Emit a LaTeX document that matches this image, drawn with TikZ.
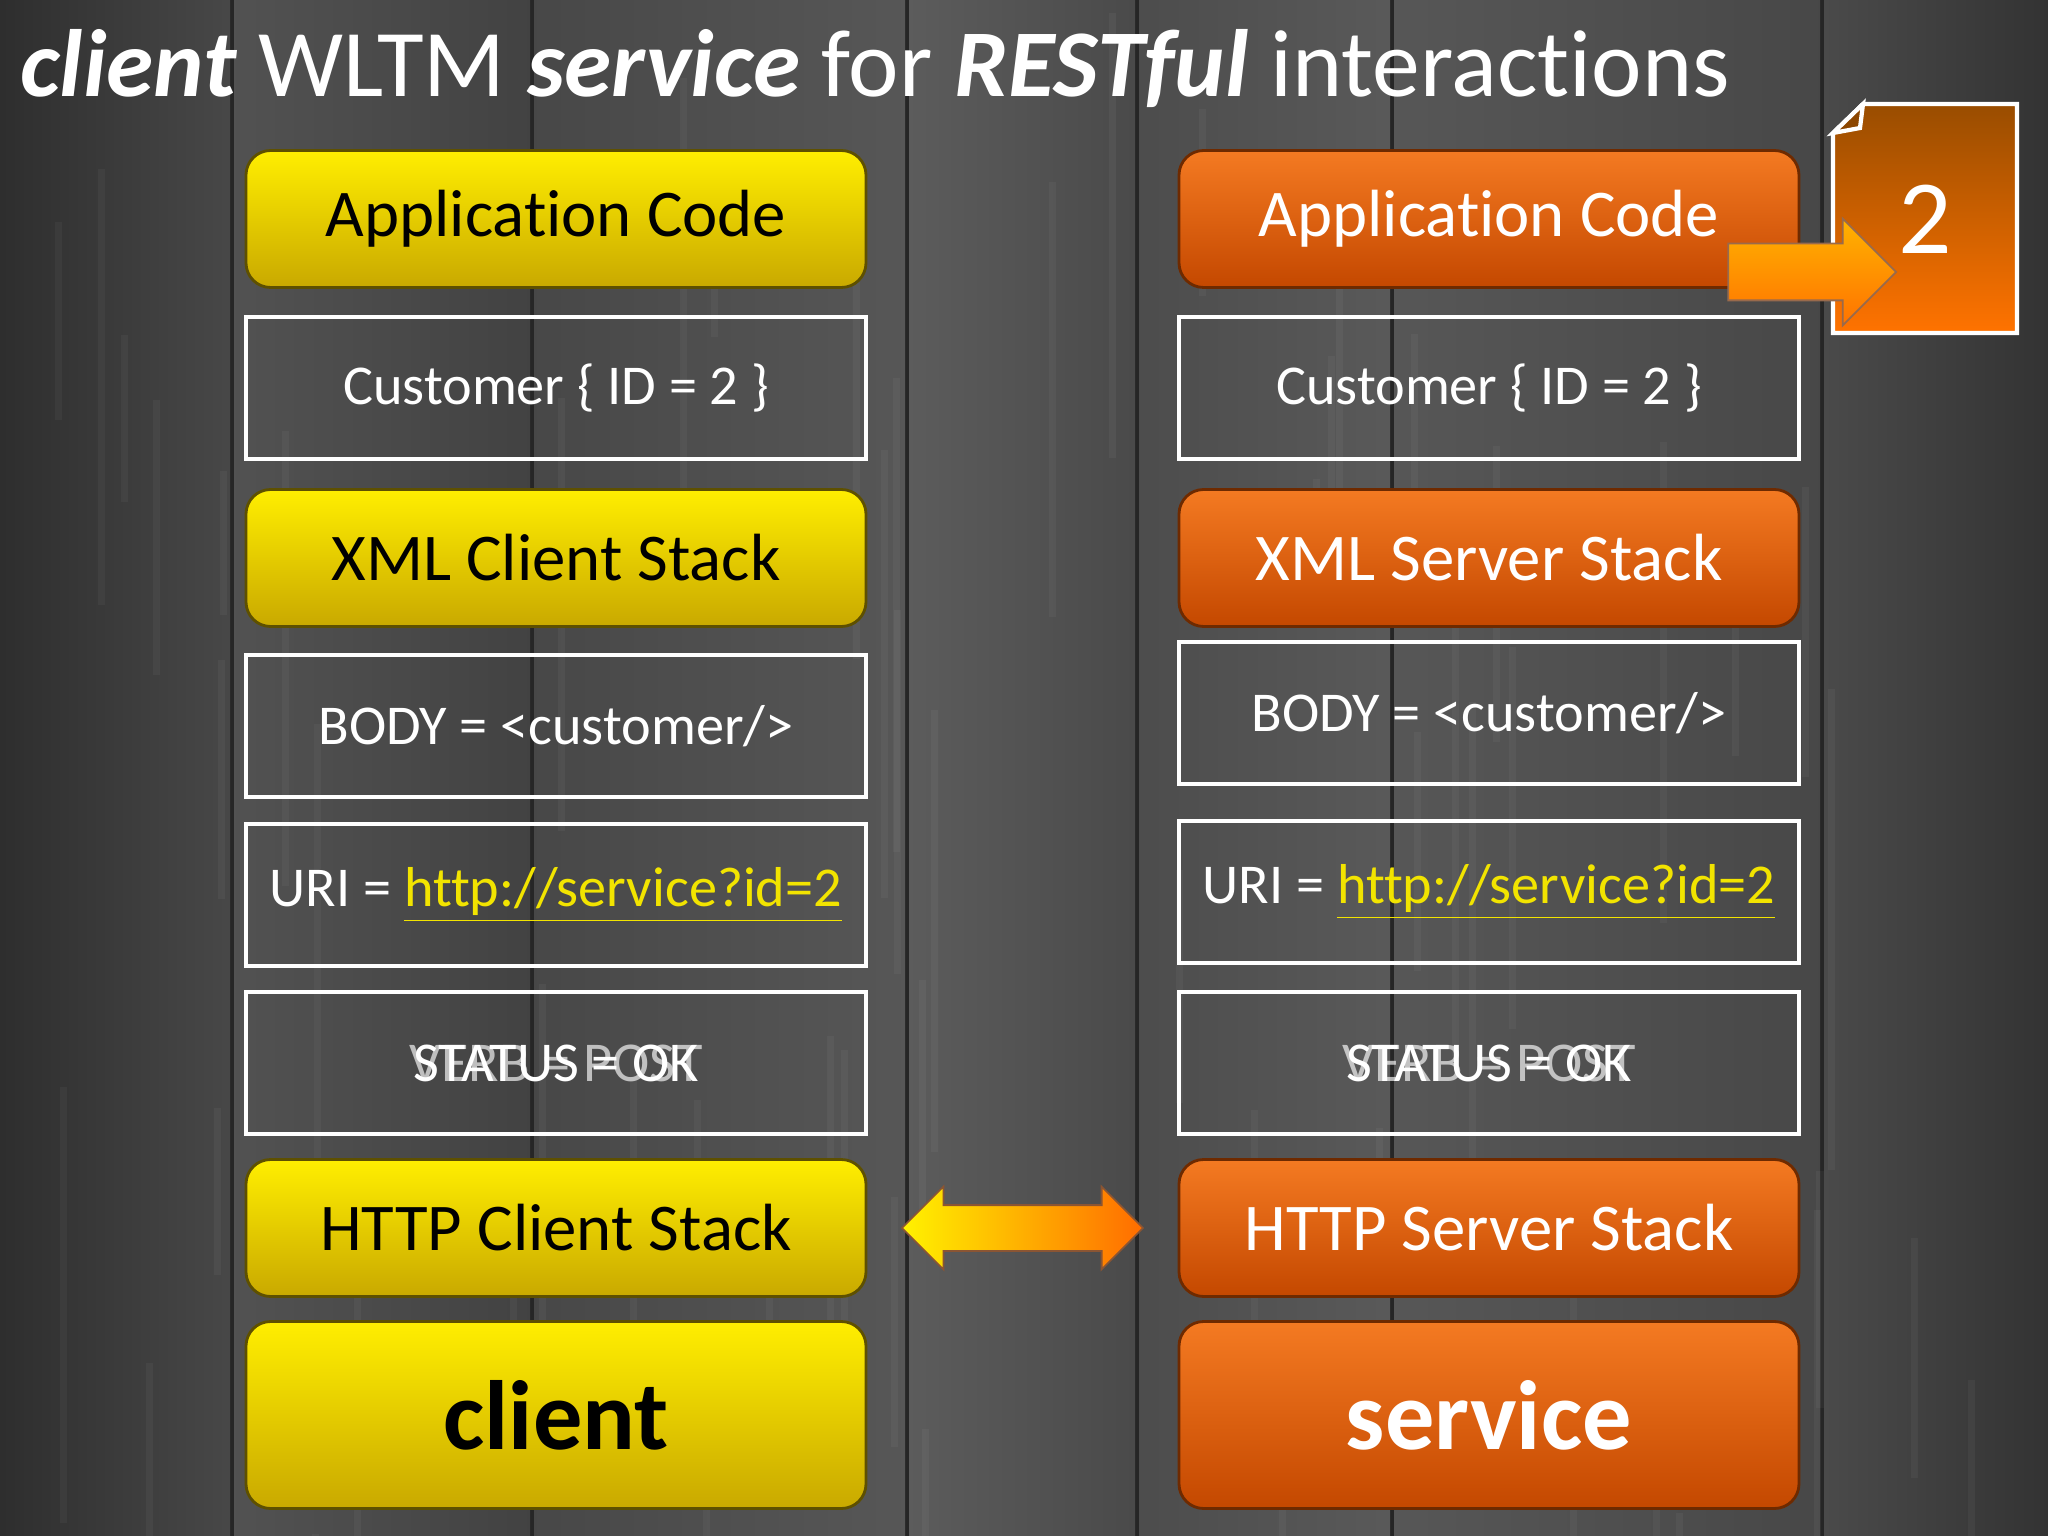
\documentclass[tikz,border=0pt]{standalone}
\usepackage{fontspec}
\setmainfont{Carlito}[Ligatures=NoCommon]
\usetikzlibrary{shapes.arrows,calc}

\definecolor{ytop}{HTML}{FFEE00}
\definecolor{ymid}{HTML}{F2D800}
\definecolor{ybot}{HTML}{C9A900}
\definecolor{yline}{HTML}{5E5000}
\definecolor{otop}{HTML}{F47A22}
\definecolor{omid}{HTML}{E8600C}
\definecolor{obot}{HTML}{C44800}
\definecolor{oline}{HTML}{6E2A00}
\definecolor{linkyellow}{HTML}{F2E400}
\definecolor{seam}{HTML}{262626}

\newcommand{\weblink}[1]{{\color{linkyellow}\underline{#1}}}

\begin{document}
\begin{tikzpicture}[
  ybox/.style={rounded corners=7pt, draw=yline, line width=0.8pt, top color=ytop, middle color=ymid, bottom color=ybot,
    minimum width=6.2cm, minimum height=1.37cm, text=black, font=\fontsize{19}{23}\selectfont},
  obox/.style={rounded corners=7pt, draw=oline, line width=0.8pt, top color=otop, middle color=omid, bottom color=obot,
    minimum width=6.2cm, minimum height=1.37cm, text=white, font=\fontsize{19}{23}\selectfont},
  hostbox/.style={minimum height=1.87cm, font=\bfseries\fontsize{28}{34}\selectfont},
  frame/.style={draw=white, line width=1.4pt, minimum width=6.2cm, minimum height=1.42cm, text=white, font=\fontsize{16}{19}\selectfont},
  ghost/.style={text=white, text opacity=0.65, font=\fontsize{16}{19}\selectfont},
  wire/.style={double arrow, inner xsep=0pt, inner ysep=0.22cm, double arrow head extend=0.185cm,
    left color=yellow!90!orange, right color=orange!85!red, draw=oline!80, line width=0.5pt}
]
  \useasboundingbox (0, 0) rectangle (20.48, -15.36);
  \fill[seam] (0, 0) rectangle (20.48, -15.36);
  \foreach \xa/\xb/\ca/\cb in {0/2.3/black!82/black!72, 2.34/5.3/black!68/black!74, 5.34/9.05/black!72/black!66,
      9.09/11.35/black!64/black!71, 11.39/13.9/black!70/black!65, 13.94/18.2/black!66/black!72, 18.24/20.48/black!71/black!80}
    \shade[left color=\ca, right color=\cb] (\xa, 0) rectangle (\xb, -15.36);
  \pgfmathsetseed{7}
  \foreach \i in {1,...,60}
    \draw[white, opacity=0.04, line width=2pt] ({20.4*rnd}, {-15.36*rnd}) -- ++(0, {-1-4*rnd});

  \node[anchor=base west, text=white, font=\fontsize{27.2}{33}\selectfont] (title) at (0.08, -0.97)
    {\textbf{\textit{client}} WLTM \textbf{\textit{service}} for \textbf{\textit{RESTful}} interactions};

  \node[ybox] (capp) at (5.56, -2.19) {Application Code};
  \node[frame] (ccust) at (5.56, -3.88) {Customer \{ ID = 2 \}};
  \node[ybox] (cxml) at (5.56, -5.58) {XML Client Stack};
  \node[frame] (cbody) at (5.56, -7.26) {BODY = <customer/>};
  \node[frame] (curi) at (5.56, -8.95) {URI = \weblink{http://service?id=2}};
  \node[frame] (cstat) at (5.56, -10.63) {STATUS = OK};
  \node[ghost] (cverb) at (cstat) {VERB = POST};
  \node[ybox] (chttp) at (5.56, -12.28) {HTTP Client Stack};
  \node[ybox, hostbox] (client) at (5.56, -14.15) {client};

  \node[obox] (sapp) at (14.89, -2.19) {Application Code};
  \node[frame] (scust) at (14.89, -3.88) {Customer \{ ID = 2 \}};
  \node[obox] (sxml) at (14.89, -5.58) {XML Server Stack};
  \node[frame] (sbody) at (14.89, -7.13) {BODY = <customer/>};
  \node[frame] (suri) at (14.89, -8.92) {URI = \weblink{http://service?id=2}};
  \node[frame] (sstat) at (14.89, -10.63) {STATUS = OK};
  \node[ghost] (sverb) at (sstat) {VERB = POST};
  \node[obox] (shttp) at (14.89, -12.28) {HTTP Server Stack};
  \node[obox, hostbox] (service) at (14.89, -14.15) {service};

  \shade[top color=orange!60!black, bottom color=orange!90!red, draw=white, line width=1.2pt]
    (18.63, -1.04) -- (20.17, -1.04) -- (20.17, -3.33) -- (18.33, -3.33) -- (18.33, -1.33) -- cycle;
  \filldraw[fill=orange!55!black, draw=white, line width=1.2pt] (18.33, -1.33) -- (18.63, -1.04) -- (18.6, -1.28) -- cycle;
  \node[minimum width=1.84cm, minimum height=2.29cm, text=white, font=\fontsize{30}{36}\selectfont] (doc) at (19.25, -2.19) {2};

  \node[single arrow, inner xsep=0pt, inner ysep=0.275cm, single arrow head extend=0.25cm, minimum height=1.68cm,
    top color=orange!60!yellow, bottom color=orange!90!red, draw=oline!70, line width=0.5pt] (push) at (17.98, -2.72) {};
  \node[wire, minimum height=2.41cm] (link) at ($(chttp.east)!0.5!(shttp.west)$) {};
\end{tikzpicture}
\end{document}
